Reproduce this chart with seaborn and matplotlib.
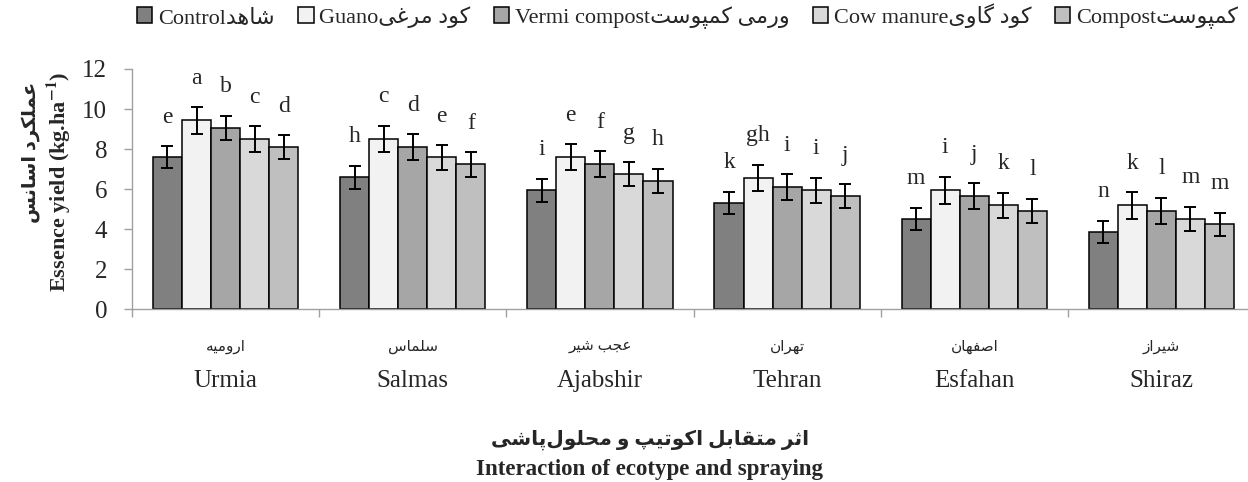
import numpy as np
import pandas as pd
import matplotlib
matplotlib.use("Agg")
import matplotlib.pyplot as plt
import seaborn as sns

# ---------------------------------------------------
# data
# ---------------------------------------------------
regions_en = ["Urmia", "Salmas", "Ajabshir", "Tehran", "Esfahan", "Shiraz"]
regions_fa = ["ارومیه", "سلماس", "عجب شیر", "تهران", "اصفهان", "شیراز"]

treat_en = ["Control", "Guano", "Vermi compost", "Cow manure", "Compost"]
treat_fa = ["شاهد", "کود مرغی", "ورمی کمپوست", "کود گاوی", "کمپوست"]

control = [7.60, 6.58, 5.93, 5.31, 4.50, 3.85]
guano = [9.43, 8.50, 7.58, 6.56, 5.93, 5.18]
vermi = [9.05, 8.10, 7.23, 6.10, 5.63, 4.92]
cow = [8.50, 7.58, 6.73, 5.93, 5.18, 4.50]
compost = [8.10, 7.23, 6.42, 5.65, 4.92, 4.23]

err_control = [0.54, 0.57, 0.57, 0.56, 0.56, 0.56]
err_guano = [0.66, 0.65, 0.65, 0.65, 0.67, 0.66]
err_vermi = [0.62, 0.64, 0.65, 0.63, 0.65, 0.65]
err_cow = [0.63, 0.61, 0.60, 0.63, 0.62, 0.62]
err_compost = [0.58, 0.61, 0.60, 0.59, 0.60, 0.58]

let_control = ["e", "h", "i", "k", "m", "n"]
let_guano = ["a", "c", "e", "gh", "i", "k"]
let_vermi = ["b", "d", "f", "i", "j", "l"]
let_cow = ["c", "e", "g", "i", "k", "m"]
let_compost = ["d", "f", "h", "j", "l", "m"]

colors = ["#808080", "#f2f2f2", "#a6a6a6", "#d9d9d9", "#bfbfbf"]

# ---------------------------------------------------
# minimal Persian shaping (matplotlib has no bidi / joining)
# ---------------------------------------------------
# isolated, final, initial, medial  (right-joining letters: isolated, final)
AR_FORMS = {
    "ا": ("\ufe8d", "\ufe8e"),
    "ب": ("\ufe8f", "\ufe90", "\ufe91", "\ufe92"),
    "پ": ("\ufb56", "\ufb57", "\ufb58", "\ufb59"),
    "ت": ("\ufe95", "\ufe96", "\ufe97", "\ufe98"),
    "ث": ("\ufe99", "\ufe9a", "\ufe9b", "\ufe9c"),
    "ج": ("\ufe9d", "\ufe9e", "\ufe9f", "\ufea0"),
    "ح": ("\ufea1", "\ufea2", "\ufea3", "\ufea4"),
    "د": ("\ufea9", "\ufeaa"),
    "ر": ("\ufead", "\ufeae"),
    "ز": ("\ufeaf", "\ufeb0"),
    "س": ("\ufeb1", "\ufeb2", "\ufeb3", "\ufeb4"),
    "ش": ("\ufeb5", "\ufeb6", "\ufeb7", "\ufeb8"),
    "ص": ("\ufeb9", "\ufeba", "\ufebb", "\ufebc"),
    "ع": ("\ufec9", "\ufeca", "\ufecb", "\ufecc"),
    "غ": ("\ufecd", "\ufece", "\ufecf", "\ufed0"),
    "ف": ("\ufed1", "\ufed2", "\ufed3", "\ufed4"),
    "ق": ("\ufed5", "\ufed6", "\ufed7", "\ufed8"),
    "ك": ("\ufed9", "\ufeda", "\ufedb", "\ufedc"),
    "ک": ("\ufb8e", "\ufb8f", "\ufb90", "\ufb91"),
    "گ": ("\ufb92", "\ufb93", "\ufb94", "\ufb95"),
    "ل": ("\ufedd", "\ufede", "\ufedf", "\ufee0"),
    "م": ("\ufee1", "\ufee2", "\ufee3", "\ufee4"),
    "ن": ("\ufee5", "\ufee6", "\ufee7", "\ufee8"),
    "ه": ("\ufee9", "\ufeea", "\ufeeb", "\ufeec"),
    "و": ("\ufeed", "\ufeee"),
    "ي": ("\ufef1", "\ufef2", "\ufef3", "\ufef4"),
    "ی": ("\ufbfc", "\ufbfd", "\ufbfe", "\ufbff"),
}


def fa(text):
    out = []
    for i, ch in enumerate(text):
        forms = AR_FORMS.get(ch)
        if forms is None:
            if ch != "\u200c":
                out.append(ch)
            continue
        prev = AR_FORMS.get(text[i - 1]) if i > 0 else None
        nxt = AR_FORMS.get(text[i + 1]) if i + 1 < len(text) else None
        join_prev = prev is not None and len(prev) == 4
        join_next = nxt is not None and len(forms) == 4
        if join_prev and join_next:
            out.append(forms[3])
        elif join_prev:
            out.append(forms[1])
        elif join_next:
            out.append(forms[2])
        else:
            out.append(forms[0])
    return "".join(reversed(out))


# ---------------------------------------------------
# plot
# ---------------------------------------------------
sns.set_style("ticks")
plt.rcParams["font.family"] = ["Liberation Serif", "DejaVu Sans"]
plt.rcParams["mathtext.fontset"] = "stix"

values = control + guano + vermi + cow + compost
df = pd.DataFrame({
    "region": regions_en * len(treat_en),
    "treatment": [t for t in treat_en for _ in regions_en],
    "value": values,
})
errs = [err_control, err_guano, err_vermi, err_cow, err_compost]
lets = [let_control, let_guano, let_vermi, let_cow, let_compost]

fig = plt.figure(figsize=(12.48, 4.82), dpi=100)
ax = fig.add_axes([132 / 1248, 173 / 482, 1123 / 1248, 240 / 482])

sns.barplot(data=df, x="region", y="value", hue="treatment",
            order=regions_en, hue_order=treat_en,
            palette=dict(zip(treat_en, colors)), width=0.776,
            edgecolor="black", linewidth=1.1, errorbar=None, ax=ax)

for cont, err, lab in zip(ax.containers, errs, lets):
    xs = [p.get_x() + p.get_width() / 2 for p in cont.patches]
    hs = [p.get_height() for p in cont.patches]
    ax.errorbar(xs, hs, yerr=err, fmt="none", ecolor="black",
                elinewidth=1.4, capsize=4.3, capthick=1.4, zorder=5)
    for x, h, e, l in zip(xs, hs, err, lab):
        ax.annotate(l, (x, h + e), xytext=(0, 17), textcoords="offset points",
                    ha="center", va="baseline", fontsize=17)

handles, _ = ax.get_legend_handles_labels()
ax.get_legend().remove()
leg_labels = [e + fa(f) for e, f in zip(treat_en, treat_fa)]
fig.legend(handles, leg_labels, loc="center left",
           bbox_to_anchor=(128 / 1248, 1 - 16 / 482), ncol=5, frameon=False,
           fontsize=16, handlelength=0.7, handleheight=0.7,
           handletextpad=0.25, columnspacing=1.05, borderaxespad=0)

ax.set_xlim(-0.5, 5.5)
ax.set_ylim(0, 12)
ax.set_yticks(np.arange(0, 13, 2))
ax.set_xticks(range(len(regions_en)), labels=regions_en)
ax.set_xticks(np.arange(-0.5, 6, 1), minor=True)
ax.tick_params(axis="x", which="major", length=0, pad=44, labelsize=18)
ax.tick_params(axis="x", which="minor", length=6, color="#a0a0a0", width=1)
ax.tick_params(axis="y", length=6, color="#a0a0a0", width=1, pad=12, labelsize=18)
ax.set_xlabel("")
ax.set_ylabel("")
sns.despine(ax=ax)
for s in ("left", "bottom"):
    ax.spines[s].set_color("#a0a0a0")
    ax.spines[s].set_linewidth(1)

for i, name in enumerate(regions_fa):
    ax.text(i, -0.158, fa(name), transform=ax.get_xaxis_transform(),
            ha="center", va="center", fontsize=11)

fig.text(59 / 1248, 1 - 182 / 482, r"Essence yield (kg.ha$^{\mathbf{-1}}$)",
         rotation=90, ha="center", va="center", fontsize=16, fontweight="bold")
fig.text(31 / 1248, 1 - 152 / 482, fa("عملکرد اسانس"), rotation=90,
         ha="center", va="center", fontsize=14, fontweight="bold")
fig.text(650 / 1248, 1 - 440 / 482, fa("اثر متقابل اکوتیپ و محلول\u200cپاشی"),
         ha="center", va="center", fontsize=14.5, fontweight="bold")
fig.text(650 / 1248, 1 - 470 / 482, "Interaction of ecotype and spraying",
         ha="center", va="center", fontsize=16.5, fontweight="bold")

fig.savefig("out.png", dpi=100)
